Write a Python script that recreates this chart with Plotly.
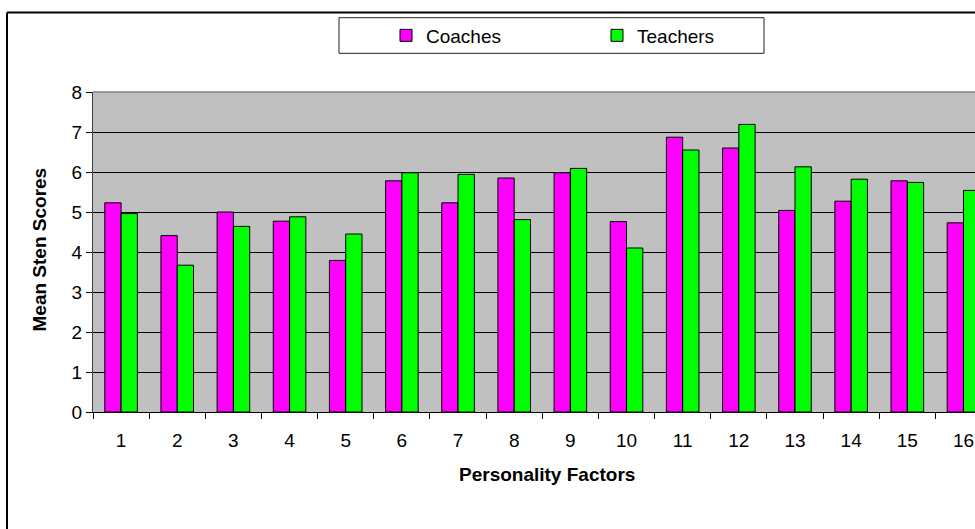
import plotly.graph_objects as go

# ---- data ----
factors = [str(i) for i in range(1, 17)]
coaches = [5.23, 4.41, 5.00, 4.77, 3.79, 5.78, 5.23, 5.85, 5.98, 4.76, 6.87, 6.60, 5.04, 5.27, 5.78, 4.73]
teachers = [4.96, 3.67, 4.64, 4.88, 4.45, 5.98, 5.94, 4.81, 6.09, 4.10, 6.55, 7.19, 6.13, 5.82, 5.74, 5.54]
y_ticks = [0, 1, 2, 3, 4, 5, 6, 7, 8]

W, H = 975, 529
L, R, T, B = 93, 0, 92, 117
PW, PH = W - L - R, H - T - B


def px(xp):
    return (xp - L) / PW


def py(yp):
    return (H - B - yp) / PH


FONT = "Liberation Sans, Arial, sans-serif"
FS = 19

fig = go.Figure()
fig.add_trace(go.Bar(x=factors, y=coaches, name="Coaches",
                     marker=dict(color="#FF00FF", line=dict(color="#000000", width=1))))
fig.add_trace(go.Bar(x=factors, y=teachers, name="Teachers",
                     marker=dict(color="#00FF00", line=dict(color="#000000", width=1))))

cat_w = 56.16
fig.update_layout(
    width=W, height=H,
    margin=dict(l=L, r=R, t=T, b=B, pad=0),
    paper_bgcolor="white",
    plot_bgcolor="#C0C0C0",
    barmode="group",
    bargap=0.42,
    bargroupgap=0,
    font=dict(family=FONT, size=FS, color="black"),
    showlegend=True,
    legend=dict(
        orientation="h",
        xref="container", yref="container",
        x=386 / W, y=1 - 35.5 / H,
        xanchor="left", yanchor="middle",
        bgcolor="rgba(0,0,0,0)",
        borderwidth=0,
        font=dict(family=FONT, size=FS, color="black"),
        entrywidth=166,
        itemwidth=30,
        traceorder="normal",
    ),
    xaxis=dict(
        type="category",
        range=[-0.5, -0.5 + PW / cat_w],
        tickson="boundaries",
        ticks="outside", ticklen=6, tickcolor="#000000", tickwidth=1,
        showline=True, linecolor="#000000", linewidth=1,
        showgrid=False,
        tickfont=dict(family=FONT, size=FS, color="black"),
        ticklabelstandoff=11,
    ),
    yaxis=dict(
        range=[0, 8],
        tickvals=y_ticks,
        ticks="outside", ticklen=6, tickcolor="#000000", tickwidth=1,
        showline=True, linecolor="#404040", linewidth=1,
        showgrid=True, gridcolor="#000000", gridwidth=1,
        zeroline=False,
        tickfont=dict(family=FONT, size=FS, color="black"),
    ),
)

# plot area top border (gray)
fig.add_shape(type="line", xref="paper", yref="paper", x0=0, x1=1, y0=1, y1=1,
              line=dict(color="#808080", width=1.5), layer="above")

# legend box
fig.add_shape(type="rect", xref="paper", yref="paper",
              x0=px(339), x1=px(764), y0=py(17.7), y1=py(53.3),
              line=dict(color="#202020", width=1), fillcolor="white", layer="above")

# outer chart frame (top and left edges visible)
fig.add_shape(type="line", xref="paper", yref="paper",
              x0=px(7), x1=px(990), y0=py(12.5), y1=py(12.5),
              line=dict(color="#000000", width=2))
fig.add_shape(type="line", xref="paper", yref="paper",
              x0=px(7), x1=px(7), y0=py(12.5), y1=py(560),
              line=dict(color="#000000", width=2))

# axis titles
fig.add_annotation(text="<b>Mean Sten Scores</b>", xref="paper", yref="paper",
                   x=px(38.5), y=py(250), textangle=-90, showarrow=False,
                   xanchor="center", yanchor="middle",
                   font=dict(family=FONT, size=FS, color="black"))
fig.add_annotation(text="<b>Personality Factors</b>", xref="paper", yref="paper",
                   x=px(547), y=py(474), showarrow=False,
                   xanchor="center", yanchor="middle",
                   font=dict(family=FONT, size=FS, color="black"))

fig.write_html("out.html", config={"displayModeBar": False},
               post_script="document.body.style.margin='0';")
